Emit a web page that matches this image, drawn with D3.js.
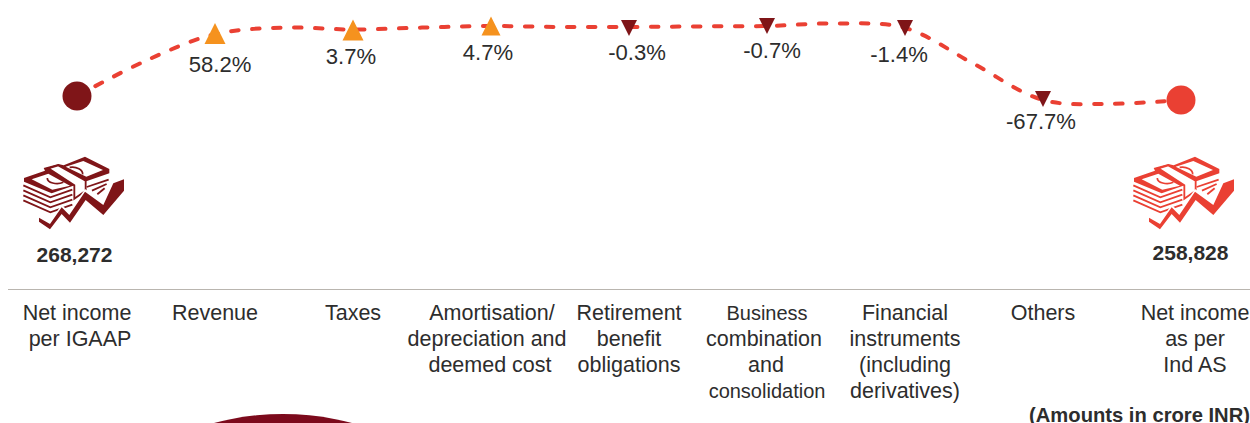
<!DOCTYPE html>
<html>
<head>
<meta charset="utf-8">
<title>Net income reconciliation</title>
<script src="https://d3js.org/d3.v7.min.js"></script>
<style>
body { margin: 0; background: #fff; overflow: hidden; }
text { font-family: "Liberation Sans", Arial, sans-serif; fill: #2d2d2d; }
</style>
</head>
<body>
<svg id="vis" width="1250" height="423"></svg>
<script>
// categories, one list of text lines per column
var categories = [
  ["Net income", "per IGAAP"],
  ["Revenue"],
  ["Taxes"],
  ["Amortisation/", "depreciation and", "deemed cost"],
  ["Retirement", "benefit", "obligations"],
  ["Business", "combination", "and", "consolidation"],
  ["Financial", "instruments", "(including", "derivatives)"],
  ["Others"],
  ["Net income", "as per", "Ind AS"]
];

// percent change per adjustment (the two ends have none)
var changes = [null, 58.2, 3.7, 4.7, -0.3, -0.7, -1.4, -67.7, null];
// height of each marker on the line (0-100)
var levels = [20, 72, 75, 78.3, 76.7, 78.3, 76.7, 17.5, 16.7];
// the dashed line also has points half way between the columns
var linePositions = [0, 0.5, 1, 1.5, 2, 2.5, 3, 3.5, 4, 4.5, 5, 5.5, 6, 6.5, 7, 7.5, 8];
var lineLevels = [20, 49.5, 71.5, 77, 75.4, 77, 78.3, 77.5, 77.5, 78, 78.3, 80.5, 76.7, 46.7, 16.7, 13.5, 16.7];

var totals = ["268,272", "258,828"];

var darkRed = "#7f1518", red = "#ea4033", orange = "#f5921e";

var svg = d3.select("#vis");

var x = d3.scaleLinear().domain([0, 8]).range([77, 1181]);
var y = d3.scaleLinear().domain([0, 100]).range([120, 0]);

// dashed line
var line = d3.line()
  .x(function(d) { return x(d[0]); })
  .y(function(d) { return y(d[1]); })
  .curve(d3.curveCatmullRom.alpha(0.5));

svg.append("path")
  .attr("d", line(d3.zip(linePositions, lineLevels)))
  .attr("fill", "none")
  .attr("stroke", red)
  .attr("stroke-width", 4)
  .attr("stroke-linecap", "round")
  .attr("stroke-dasharray", "7.5 13.5");

// end circles
[0, 8].forEach(function(i) {
  svg.append("circle")
    .attr("cx", x(i))
    .attr("cy", y(levels[i]))
    .attr("r", 14.5)
    .attr("fill", i == 0 ? darkRed : red);
});

// triangles, up for a positive change, down for a negative one
var adjustments = d3.range(categories.length).filter(function(i) { return changes[i] != null; });

svg.selectAll("path.marker")
  .data(adjustments)
  .enter()
  .append("path")
  .attr("class", "marker")
  .attr("fill", function(i) { return changes[i] > 0 ? orange : darkRed; })
  .attr("d", function(i) {
    var up = changes[i] > 0;
    var s = up ? (i == 3 ? 9.5 : 10.5) : 8;
    var cx = x(i), cy = y(levels[i]);
    if (up) return "M" + cx + "," + (cy - s) + "L" + (cx + s) + "," + (cy + s) + "L" + (cx - s) + "," + (cy + s) + "Z";
    return "M" + cx + "," + (cy + s) + "L" + (cx + s) + "," + (cy - s) + "L" + (cx - s) + "," + (cy - s) + "Z";
  });

// percent labels, shifted by hand so they dodge the line like in the original
var nudge = {1: [5, 38], 2: [-2, 33.5], 3: [-3, 34], 4: [8, 32], 5: [5, 32], 6: [-6, 34], 7: [-2, 30]};

svg.selectAll("text.change")
  .data(adjustments)
  .enter()
  .append("text")
  .attr("class", "change")
  .attr("x", function(i) { return x(i) + nudge[i][0]; })
  .attr("y", function(i) { return y(levels[i]) + nudge[i][1]; })
  .attr("text-anchor", "middle")
  .attr("font-size", 22.1)
  .text(function(i) { return changes[i].toFixed(1) + "%"; });

// money icon, drawn in a 345x255 box then scaled down
function moneyIcon(tx, ty, color) {
  var g = svg.append("g")
    .attr("transform", "translate(" + tx + "," + ty + ") scale(0.3333)");

  // note edges under the top one
  var edges = g.append("g").attr("fill", "none").attr("stroke", color).attr("stroke-width", 5.5);
  [106, 121, 136, 151].forEach(function(v) {
    edges.append("path").attr("d", "M25," + v + "L106," + (v + 36) + "L172," + (v + 13));
  });
  [103, 116, 129].forEach(function(v, i) {
    edges.append("path").attr("d", "M" + (215 + i * 16) + "," + (v + 8 - i * 2) + "L" + (281 - i * 6) + "," + (v - 14));
  });

  // top note
  g.append("path").attr("fill", color)
    .attr("d", "M27,84L90,62L86,54L130,42L146,46L210,20L283,57L283,70L110,130L27,95Z");
  g.append("path").attr("fill", "#fff")
    .attr("d", "M50,88L100,71L165,107L112,119Z");
  g.append("path").attr("fill", "#fff")
    .attr("d", "M152,50L205,33L264,60L214,80Z");
  g.append("path").attr("fill", "none").attr("stroke", color).attr("stroke-width", 5)
    .attr("d", "M97,84C96,98 125,106 145,97M164,52C185,48 204,60 203,73");

  // paper band round the stack
  g.append("path").attr("fill", "#fff").attr("stroke", color).attr("stroke-width", 5.5)
    .attr("d", "M100,55L130,46L212,92L212,122L178,146L178,106Z");

  // zigzag arrow
  g.append("path").attr("fill", "#fff")
    .attr("d", "M84,197L105,214L140,164L163,187L210,117L265,157L290,95L327,88L327,126L265,201L212,156L165,224L140,198L105,244L84,222Z");
  g.append("path").attr("fill", color)
    .attr("d", "M72,203L105,222L140,172L163,195L210,125L265,165L295,100L327,88L327,122L265,195L212,150L165,218L140,192L105,238L72,215Z");
}
moneyIcon(15, 150, darkRed);
moneyIcon(1125, 150, red);

// totals under the icons
svg.append("text").attr("x", 74.5).attr("y", 262).attr("text-anchor", "middle")
  .attr("font-size", 21).attr("font-weight", "bold").text(totals[0]);
svg.append("text").attr("x", 1190.5).attr("y", 260).attr("text-anchor", "middle")
  .attr("font-size", 21).attr("font-weight", "bold").text(totals[1]);

// rule above the category names
svg.append("line")
  .attr("x1", 8).attr("x2", 1250)
  .attr("y1", 289.5).attr("y2", 289.5)
  .attr("stroke", "#b9b5af")
  .attr("stroke-width", 1.2);

// category names, a few lines sit off centre in the original
var columnShift = {3: -1, 8: 14};
var lineShift = {"per IGAAP": 3, "depreciation and": -3, "Amortisation/": 2, "combination": -3, "and": -1};
var smallLines = ["Business", "consolidation"];

var columns = svg.selectAll("g.category")
  .data(categories)
  .enter()
  .append("g")
  .attr("class", "category")
  .attr("transform", function(d, i) { return "translate(" + (x(i) + (columnShift[i] || 0)) + ",0)"; });

columns.selectAll("text")
  .data(function(d) { return d; })
  .enter()
  .append("text")
  .attr("text-anchor", "middle")
  .attr("x", function(d) { return lineShift[d] || 0; })
  .attr("y", function(d, i) { return 320 + i * 26; })
  .attr("font-size", function(d) { return smallLines.indexOf(d) >= 0 ? 20 : 21.5; })
  .text(function(d) { return d; });

svg.append("text")
  .attr("x", 1250).attr("y", 421.5)
  .attr("text-anchor", "end")
  .attr("font-size", 20.2)
  .attr("font-weight", "bold")
  .text("(Amounts in crore INR)");

// top of the big circle that is cut off by the bottom edge
svg.append("circle")
  .attr("cx", 283).attr("cy", 683).attr("r", 269)
  .attr("fill", "#7c0a1c");
</script>
</body>
</html>
